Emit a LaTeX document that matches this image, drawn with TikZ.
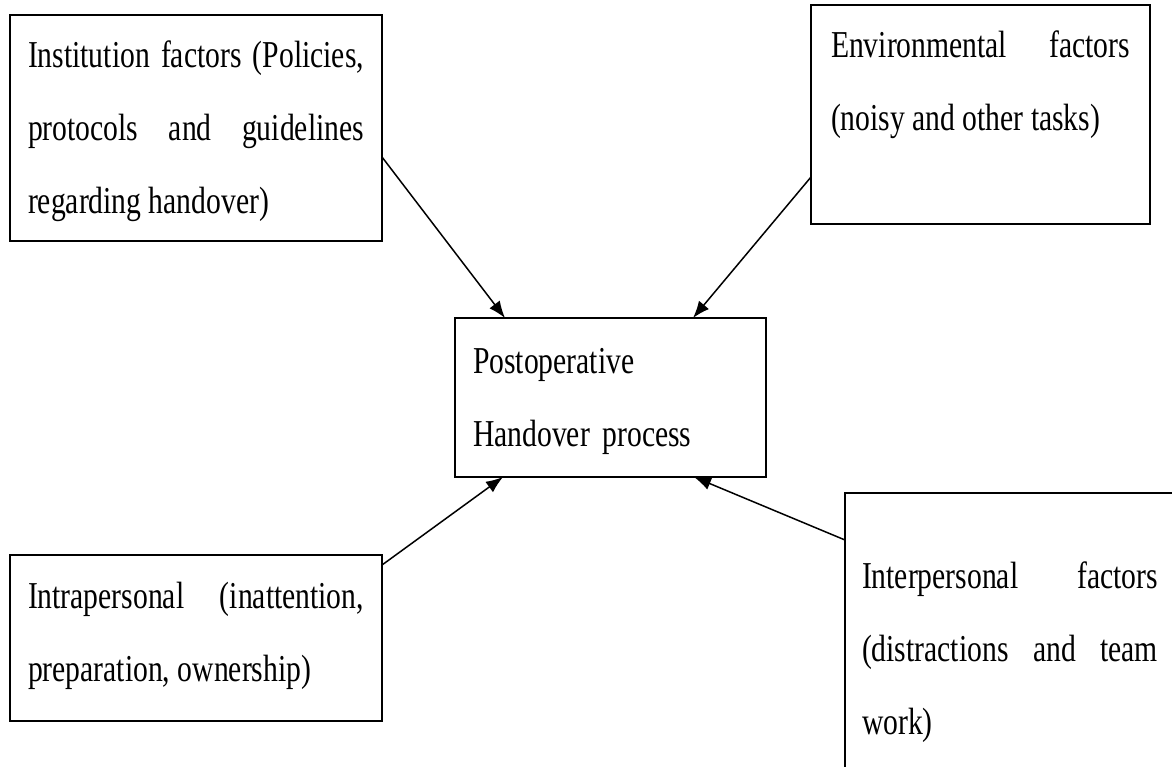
\documentclass[tikz,border=0pt]{standalone}
\usepackage{fontspec}
\setmainfont[FakeStretch=0.78]{Liberation Serif}
\usetikzlibrary{arrows.meta}

\tikzset{
  kasten/.style={draw, line width=1.8pt, anchor=north west, outer sep=0pt,
    inner ysep=0pt, inner xsep=18pt, text width=336pt, align=justify,
    font=\fontsize{38}{73}\selectfont},
  pfeil/.style={line width=1.5pt, -{Latex[length=17pt,width=13pt]}}
}

\begin{document}
\begin{tikzpicture}[x=1pt,y=-1pt]
    \useasboundingbox (0,0) rectangle (1172,767);
    \clip (0,0) rectangle (1172,767);
    % Einflussfaktoren
    \node[kasten, text height=53pt, text depth=173pt] (institution) at (10,15)
      {Institution factors (Policies,\linebreak protocols and guidelines\linebreak regarding handover)};
    \node[kasten, inner xsep=20pt, text width=299pt, text height=53pt, text depth=166pt] (umgebung) at (811,5)
      {Environmental factors\linebreak (noisy and other tasks)};
    \node[kasten, text height=53pt, text depth=113pt] (intra) at (10,555)
      {Intrapersonal (inattention,\linebreak preparation, ownership)};
    \node[kasten, inner xsep=17pt, text width=296pt, text height=95pt, text depth=187pt] (inter) at (845,493)
      {Interpersonal factors\linebreak (distractions and team\linebreak work)};
    % Prozess in der Mitte
    \node[kasten, align=left, text width=275pt, text height=55pt, text depth=104pt] (prozess) at (455,318)
      {Postoperative\\Handover process};
    % Pfeile zur Mitte
    \draw[pfeil] ([yshift=-142pt]institution.north east) -- ([xshift=50pt]prozess.north west);
    \draw[pfeil] ([yshift=-172pt]umgebung.north west) -- ([xshift=238pt]prozess.north west);
    \draw[pfeil] ([yshift=-10pt]intra.north east) -- ([xshift=48pt]prozess.south west);
    \draw[pfeil] ([yshift=-47pt]inter.north west) -- ([xshift=239pt]prozess.south west);
  \end{tikzpicture}
\end{document}
